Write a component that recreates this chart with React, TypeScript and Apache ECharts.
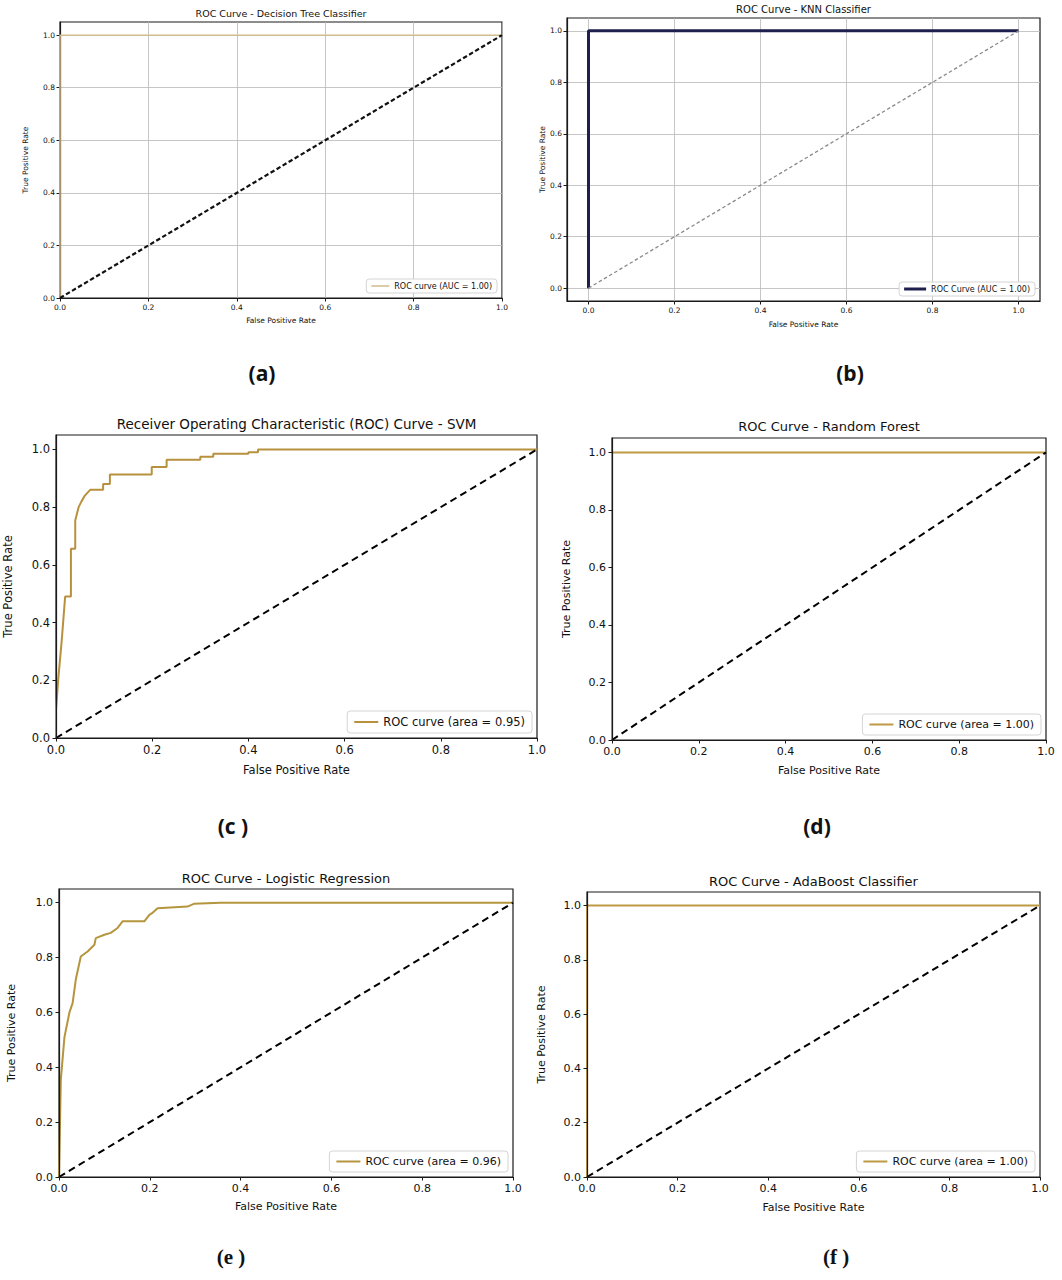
import React, { useEffect, useRef } from 'react';
import * as echarts from 'echarts';

// ---------------- DATA ----------------
const TICKS = [0, 0.2, 0.4, 0.6, 0.8, 1.0];

const dtFpr = [0, 0, 1];
const dtTpr = [0, 1, 1];

const knnFpr = [0, 0, 1];
const knnTpr = [0, 1, 1];

const svmFpr = [0, 0, 0.005, 0.012, 0.019, 0.031, 0.031, 0.04, 0.04, 0.047, 0.053, 0.06, 0.071, 0.098, 0.098, 0.112, 0.112, 0.199, 0.199, 0.23, 0.23, 0.3, 0.3, 0.327, 0.327, 0.4, 0.4, 0.42, 0.42, 1];
const svmTpr = [0, 0.1, 0.21, 0.34, 0.49, 0.49, 0.656, 0.656, 0.754, 0.8, 0.82, 0.84, 0.86, 0.86, 0.88, 0.88, 0.913, 0.913, 0.939, 0.939, 0.964, 0.964, 0.975, 0.975, 0.985, 0.985, 0.99, 0.99, 1, 1];

const rfFpr = [0, 0, 1];
const rfTpr = [0, 1, 1];

const lrFpr = [0, 0.004, 0.012, 0.023, 0.03, 0.037, 0.048, 0.063, 0.078, 0.081, 0.1, 0.114, 0.129, 0.14, 0.188, 0.199, 0.205, 0.217, 0.283, 0.297, 0.356, 1];
const lrTpr = [0, 0.354, 0.51, 0.6, 0.634, 0.72, 0.804, 0.822, 0.847, 0.871, 0.883, 0.89, 0.908, 0.932, 0.932, 0.956, 0.962, 0.98, 0.986, 0.996, 1, 1];

const adaFpr = [0, 0, 1];
const adaTpr = [0, 1, 1];

const chanceFpr = [0, 1];
const chanceTpr = [0, 1];

const titles = [
  'ROC Curve - Decision Tree Classifier',
  'ROC Curve - KNN Classifier',
  'Receiver Operating Characteristic (ROC) Curve - SVM',
  'ROC Curve - Random Forest',
  'ROC Curve - Logistic Regression',
  'ROC Curve - AdaBoost Classifier',
];

const legendTexts = [
  'ROC curve (AUC = 1.00)',
  'ROC Curve (AUC = 1.00)',
  'ROC curve (area = 0.95)',
  'ROC curve (area = 1.00)',
  'ROC curve (area = 0.96)',
  'ROC curve (area = 1.00)',
];

const panelLabels = ['(a)', '(b)', '(c )', '(d)', '(e )', '(f )'];

const xLabel = 'False Positive Rate';
const yLabel = 'True Positive Rate';

const curves = [
  [dtFpr, dtTpr],
  [knnFpr, knnTpr],
  [svmFpr, svmTpr],
  [rfFpr, rfTpr],
  [lrFpr, lrTpr],
  [adaFpr, adaTpr],
];

// ---------------- LAYOUT / STYLE ----------------
const W = 1062;
const H = 1280;
const FONT = '"DejaVu Sans", sans-serif';

type Panel = {
  key: string;
  grid: [number, number, number, number];
  xr: [number, number];
  yr: [number, number];
  gridLines: boolean;
  tickFont: number;
  nameFont: number;
  titleFont: number;
  titleY: number;
  legendFont: number;
  xNameGap: number;
  yNameGap: number;
  rocColor: string;
  rocWidth: number;
  diagColor: string;
  diagWidth: number;
  diagDash: number[];
  legendPad: [number, number];
  iconW: number;
  labelMargin: number;
  labelX: number;
  labelY: number;
  labelFont: string;
};

const panels: Panel[] = [
  {
    key: 'dt', grid: [60, 22, 442, 276], xr: [0, 1], yr: [0, 1.05], gridLines: true,
    tickFont: 7.5, nameFont: 7.5, titleFont: 9.5, titleY: 13, legendFont: 8,
    xNameGap: 18, yNameGap: 31, rocColor: '#d2bb8c', rocWidth: 1.5,
    diagColor: '#111', diagWidth: 2.2, diagDash: [4.5, 2.5], legendPad: [3, 5], iconW: 18, labelMargin: 5,
    labelX: 262, labelY: 373, labelFont: '"Open Sans", sans-serif',
  },
  {
    key: 'knn', grid: [567, 18, 473, 283], xr: [-0.05, 1.05], yr: [-0.05, 1.05], gridLines: true,
    tickFont: 7.5, nameFont: 7.5, titleFont: 10, titleY: 9.5, legendFont: 8,
    xNameGap: 19, yNameGap: 21, rocColor: '#1f1f4d', rocWidth: 3,
    diagColor: '#8a8a8a', diagWidth: 1.3, diagDash: [3.5, 2.5], legendPad: [3, 5], iconW: 22, labelMargin: 5,
    labelX: 850, labelY: 373, labelFont: '"Open Sans", sans-serif',
  },
  {
    key: 'svm', grid: [56, 435, 481, 303], xr: [0, 1], yr: [0, 1.05], gridLines: false,
    tickFont: 11.5, nameFont: 11.5, titleFont: 13.5, titleY: 424, legendFont: 11.5,
    xNameGap: 26, yNameGap: 42, rocColor: '#b8913e', rocWidth: 2,
    diagColor: '#000', diagWidth: 2, diagDash: [7, 4.5], legendPad: [5, 7], iconW: 24, labelMargin: 6,
    labelX: 233, labelY: 826, labelFont: '"Open Sans", sans-serif',
  },
  {
    key: 'rf', grid: [612, 438, 434, 302], xr: [0, 1], yr: [0, 1.05], gridLines: false,
    tickFont: 11, nameFont: 11, titleFont: 13, titleY: 426, legendFont: 11,
    xNameGap: 25, yNameGap: 40, rocColor: '#bf9a45', rocWidth: 2,
    diagColor: '#000', diagWidth: 2, diagDash: [7, 4.5], legendPad: [5, 7], iconW: 24, labelMargin: 6,
    labelX: 817, labelY: 826, labelFont: '"Open Sans", sans-serif',
  },
  {
    key: 'lr', grid: [59, 889, 454, 288], xr: [0, 1], yr: [0, 1.05], gridLines: false,
    tickFont: 11, nameFont: 11, titleFont: 13, titleY: 878, legendFont: 11,
    xNameGap: 24, yNameGap: 42, rocColor: '#b5953e', rocWidth: 2,
    diagColor: '#000', diagWidth: 2, diagDash: [7, 4.5], legendPad: [5, 7], iconW: 24, labelMargin: 6,
    labelX: 231, labelY: 1257, labelFont: '"Liberation Serif", serif',
  },
  {
    key: 'ada', grid: [587, 892, 453, 285], xr: [0, 1], yr: [0, 1.05], gridLines: false,
    tickFont: 11, nameFont: 11, titleFont: 13, titleY: 881, legendFont: 11,
    xNameGap: 25, yNameGap: 40, rocColor: '#bf9a45', rocWidth: 2,
    diagColor: '#000', diagWidth: 2, diagDash: [7, 4.5], legendPad: [5, 7], iconW: 24, labelMargin: 6,
    labelX: 836, labelY: 1257, labelFont: '"Liberation Serif", serif',
  },
];

const zip = (xs: number[], ys: number[]) => xs.map((x, i) => [x, ys[i]]);

function buildOption() {
  const grid = panels.map((p) => ({
    left: p.grid[0], top: p.grid[1], width: p.grid[2], height: p.grid[3],
    show: true, borderColor: '#1a1a1a', borderWidth: 1.2, backgroundColor: 'transparent',
  }));

  const axisCommon = (p: Panel, i: number, isX: boolean) => ({
    type: 'value',
    gridIndex: i,
    z: p.gridLines ? 0 : 10,
    min: isX ? p.xr[0] : p.yr[0],
    max: isX ? p.xr[1] : p.yr[1],
    name: isX ? xLabel : yLabel,
    nameLocation: 'middle',
    nameGap: isX ? p.xNameGap : p.yNameGap,
    nameTextStyle: { fontSize: p.nameFont, fontFamily: FONT, color: '#111' },
    axisLine: { show: true, onZero: false, lineStyle: { color: '#1a1a1a', width: 1.2 } },
    axisTick: { show: true, length: 3.5, customValues: TICKS, lineStyle: { color: '#1a1a1a', width: 1 } },
    axisLabel: {
      customValues: TICKS,
      formatter: (v: number) => v.toFixed(1),
      fontSize: p.tickFont, fontFamily: FONT, color: '#111', margin: p.labelMargin,
    },
    splitLine: { show: p.gridLines, lineStyle: { color: '#b8b8b8', width: 0.8 } },
  });

  const xAxis = panels.map((p, i) => axisCommon(p, i, true));
  const yAxis = panels.map((p, i) => axisCommon(p, i, false));

  const series: any[] = [];
  panels.forEach((p, i) => {
    series.push({
      name: p.key, type: 'line', xAxisIndex: i, yAxisIndex: i,
      data: zip(curves[i][0], curves[i][1]),
      symbol: 'none', showSymbol: false, clip: false,
      itemStyle: { color: p.rocColor },
      lineStyle: { color: p.rocColor, width: p.rocWidth },
      z: 3,
    });
    series.push({
      name: p.key + '-chance', type: 'line', xAxisIndex: i, yAxisIndex: i,
      data: zip(chanceFpr, chanceTpr),
      symbol: 'none', showSymbol: false,
      itemStyle: { color: p.diagColor },
      lineStyle: { color: p.diagColor, width: p.diagWidth, type: p.diagDash },
      z: 4,
    });
  });

  const legend = panels.map((p, i) => ({
    data: [p.key],
    right: W - (p.grid[0] + p.grid[2]) + 5,
    bottom: H - (p.grid[1] + p.grid[3]) + 5,
    orient: 'vertical',
    icon: 'rect',
    itemWidth: p.iconW,
    itemHeight: p.rocWidth,
    itemGap: 0,
    selectedMode: false,
    formatter: () => legendTexts[i],
    textStyle: { fontSize: p.legendFont, fontFamily: FONT, color: '#111' },
    backgroundColor: '#fff',
    borderColor: '#d4d4d4',
    borderWidth: 1,
    borderRadius: 3,
    padding: p.legendPad,
    z: 20,
  }));

  const graphic: any[] = [];
  panels.forEach((p, i) => {
    graphic.push({
      type: 'text',
      x: p.grid[0] + p.grid[2] / 2,
      y: p.titleY,
      style: {
        text: titles[i], fontSize: p.titleFont, fontFamily: FONT, fill: '#111',
        align: 'center', verticalAlign: 'middle', textAlign: 'center', textVerticalAlign: 'middle',
      },
    });
    graphic.push({
      type: 'text',
      x: p.labelX,
      y: p.labelY,
      style: {
        text: panelLabels[i], fontSize: 21, fontWeight: 'bold', fontFamily: p.labelFont, fill: '#111',
        align: 'center', verticalAlign: 'middle', textAlign: 'center', textVerticalAlign: 'middle',
      },
    });
  });

  return {
    animation: false,
    backgroundColor: '#ffffff',
    grid,
    xAxis,
    yAxis,
    series,
    legend,
    graphic,
  };
}

export default function App() {
  const ref = useRef<HTMLDivElement>(null);
  useEffect(() => {
    if (!ref.current) return;
    const chart = echarts.init(ref.current, undefined, { renderer: 'svg', width: W, height: H });
    chart.setOption(buildOption() as any);
    return () => chart.dispose();
  }, []);
  return (
    <div
      ref={ref}
      style={{ position: 'absolute', left: 0, top: 0, width: W, height: H, background: '#fff' }}
    />
  );
}
